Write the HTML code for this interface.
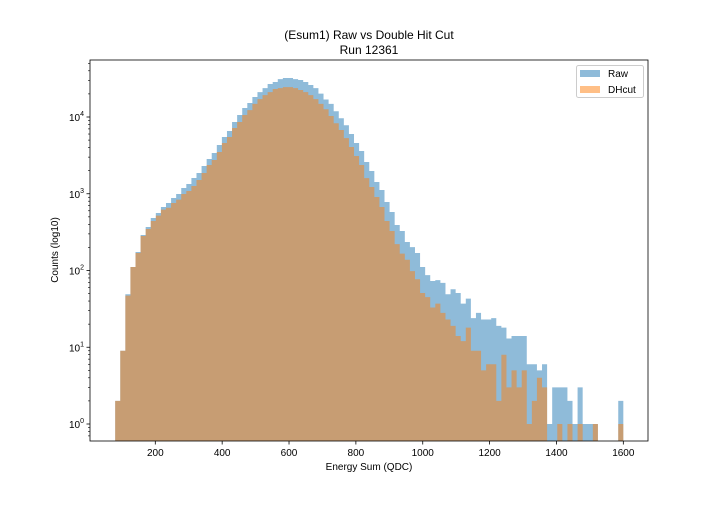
<!DOCTYPE html>
<html><head><meta charset="utf-8"><style>
body{margin:0;background:#fff;width:720px;height:504px;overflow:hidden}
svg{font-family:"Liberation Sans","DejaVu Sans",sans-serif}
</style></head><body>
<svg id="chart" width="720" height="504">
<text x="369" y="39" text-anchor="middle" font-size="12">(Esum1) Raw vs Double Hit Cut</text>
<text x="369" y="54" text-anchor="middle" font-size="12">Run 12361</text>
<g id="bars"></g>
<g id="axes"></g>
<text x="369" y="470" text-anchor="middle" font-size="10">Energy Sum (QDC)</text>
<text transform="translate(58,250) rotate(-90)" text-anchor="middle" font-size="10">Counts (log10)</text>
<g>
<rect x="576.5" y="65.5" width="67" height="32" rx="2" fill="#fff" fill-opacity="0.8" stroke="#ccc"/>
<g><rect x="580" y="70" width="20" height="7" fill="#1f77b4" fill-opacity="0.5"/><text x="608" y="77" font-size="10">Raw</text></g>
<g><rect x="580" y="86" width="20" height="7" fill="#ff7f0e" fill-opacity="0.5"/><text x="608" y="93" font-size="10">DHcut</text></g>
</g>
</svg>
<script>
const binStart = 80;
const binWidth = 15.2;
const rawCounts = [2,9,49,111,174,290,369,483,561,672,757,880,993,1188,1340,1603,1862,2300,2837,3400,4313,5480,6580,8600,10600,13100,15200,18200,21100,23800,26900,28600,31200,32200,32200,31200,30300,28600,26100,23800,20200,16900,14800,11900,9650,7800,6000,4580,3610,2590,1980,1420,1120,781,578,392,327,235,202,169,111,87,73,75,69,49,57,51,37,43,24,28,23,23,24,19,18,13,14,14,14,6,6,5,6,1,3,3,3,2,1,3,1,1,1,0,0,0,0,2];
const dhCounts = [2,9,47,111,169,281,347,442,518,620,658,757,837,993,1086,1262,1510,1862,2371,2754,3500,4580,5480,7190,8600,10600,12300,14800,17100,19300,21100,23200,23800,24500,24500,23800,22500,21100,19300,17100,14800,12600,10300,8300,6780,5300,4060,3100,2371,1600,1225,907,672,442,327,221,166,138,98,77,51,45,33,37,28,23,19,14,12,18,9,9,5,6,6,2,8,3,5,3,5,1,2,4,3,0,0,1,0,1,0,1,0,0,1,0,0,0,0,1];
const xTicks = [200,400,600,800,1000,1200,1400,1600];
const yTickExps = [0,1,2,3,4];

const L=90,R=648,T=60,B=441;
const xs = v => 88.44 + 0.3343*v;
const ys = v => 424 - 76.75*Math.log10(v);
const NS='http://www.w3.org/2000/svg';
const bars=document.getElementById('bars'), axes=document.getElementById('axes');
function mk(tag,attrs,parent){const e=document.createElementNS(NS,tag);for(const k in attrs)e.setAttribute(k,attrs[k]);parent.appendChild(e);return e;}
function drawSeries(arr,color,name){
  let d='', open=false;
  arr.forEach((c,i)=>{
    const x0=xs(binStart+i*binWidth), x1=xs(binStart+(i+1)*binWidth);
    if(c<=0){ if(open){d+=`V${B}Z`;open=false;} return; }
    const y=ys(c);
    if(!open){d+=`M${x0},${B}`;open=true;}
    d+=`V${y}H${x1}`;
  });
  if(open)d+=`V${B}Z`;
  const p=mk('path',{d:d,fill:color,'fill-opacity':0.5},bars);
  
  
}
drawSeries(rawCounts,'#1f77b4','raw');
drawSeries(dhCounts,'#ff7f0e','dhcut');
const fr=mk('rect',{x:L,y:T,width:R-L,height:B-T,fill:'none',stroke:'#000','stroke-width':0.8},axes);


xTicks.forEach(v=>{
  const x=xs(v);
  mk('line',{x1:x,x2:x,y1:B,y2:B+3.5,stroke:'#000','stroke-width':0.8},axes);
  const t=mk('text',{x:x,y:B+15,'text-anchor':'middle','font-size':10},axes);
  t.textContent=v;
  
  
});
yTickExps.forEach(e=>{
  const y=ys(Math.pow(10,e));
  mk('line',{x1:L-3.5,x2:L,y1:y,y2:y,stroke:'#000','stroke-width':0.8},axes);
  const t=mk('text',{x:L-6,y:y+4,'text-anchor':'end','font-size':10},axes);
  t.textContent='10';
  const s=mk('tspan',{dy:-5,'font-size':7},t);
  s.textContent=e;
  
  
});
for(let e=-1;e<=4;e++){for(let m=2;m<=9;m++){
  const v=m*Math.pow(10,e), y=ys(v);
  if(y<T||y>B)continue;
  mk('line',{x1:L-2,x2:L,y1:y,y2:y,stroke:'#000','stroke-width':0.6},axes);
}}
</script>
</body></html>
